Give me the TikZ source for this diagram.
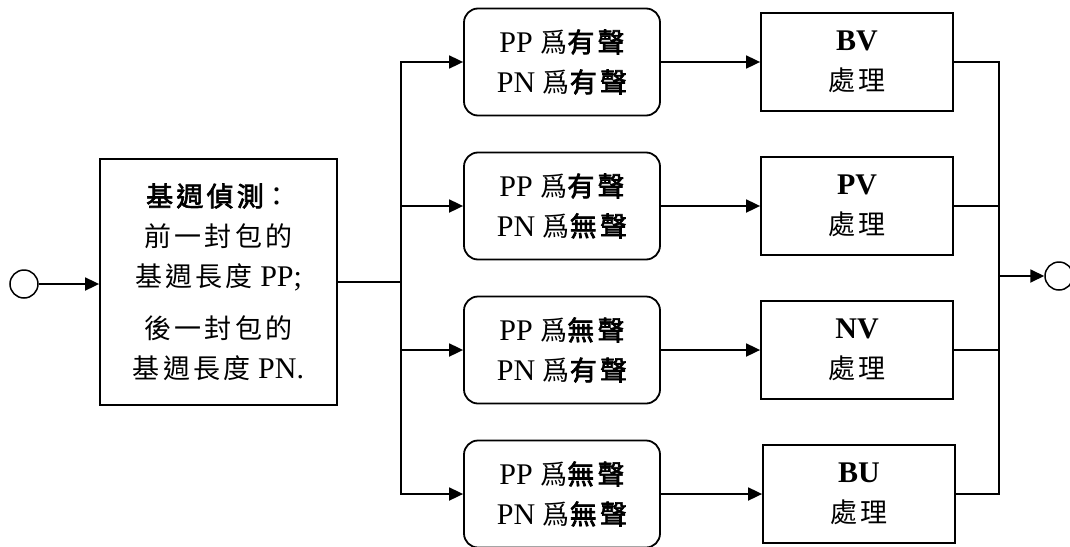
\documentclass[tikz,border=0pt]{standalone}
\usepackage{fontspec}
\setmainfont{Liberation Serif}
\newfontfamily\cjkfont[LetterSpace=12]{Noto Sans CJK TC}
\newfontfamily\cjkbfont[FakeBold=2.5,LetterSpace=12]{Noto Sans CJK TC}
\newcommand\zh[1]{{\fontsize{27}{40}\selectfont\cjkfont #1}}
\newcommand\zhb[1]{{\fontsize{27}{40}\selectfont\cjkbfont #1}}
\newcommand\lat{\fontsize{30}{40}\selectfont}
\usetikzlibrary{arrows.meta}
\begin{document}
\begin{tikzpicture}[x=1pt,y=-1pt,
  box/.style={draw, line width=1.8pt, inner sep=0pt, align=center, font=\lat},
  rbox/.style={box, rounded corners=14pt, minimum width=196pt, minimum height=107pt},
  pbox/.style={box, minimum width=192pt, minimum height=98pt},
  conn/.style={line width=1.8pt},
  arr/.style={conn, -{Triangle[length=14pt,width=13pt]}},
  term/.style={draw, circle, line width=1.5pt, minimum size=28pt, inner sep=0pt}]
\useasboundingbox (0,0) rectangle (1070,546);

\node[term] (in) at (24,284) {};
\node[box, minimum width=237pt, minimum height=246pt] (det) at (218.5,282)
  {\zhb{基週偵測}\zh{：}\\ \zh{前一封包的}\\ \zh{基週長度} PP;\\[12pt] \zh{後一封包的}\\ \zh{基週長度} PN.};

\node[rbox] (c1) at (562,62)  {PP \zh{爲}\zhb{有聲}\\ PN \zh{爲}\zhb{有聲}};
\node[rbox] (c2) at (562,206) {PP \zh{爲}\zhb{有聲}\\ PN \zh{爲}\zhb{無聲}};
\node[rbox] (c3) at (562,350) {PP \zh{爲}\zhb{無聲}\\ PN \zh{爲}\zhb{有聲}};
\node[rbox] (c4) at (562,494) {PP \zh{爲}\zhb{無聲}\\ PN \zh{爲}\zhb{無聲}};

\node[pbox] (p1) at (857,62)  {\textbf{BV}\\ \zh{處理}};
\node[pbox] (p2) at (857,206) {\textbf{PV}\\ \zh{處理}};
\node[pbox] (p3) at (857,350) {\textbf{NV}\\ \zh{處理}};
\node[pbox] (p4) at (859,494) {\textbf{BU}\\ \zh{處理}};

\node[term] (out) at (1059,276) {};

\coordinate (tm) at (401,282);
\coordinate (t1) at (401,62);
\coordinate (t2) at (401,206);
\coordinate (t3) at (401,350);
\coordinate (t4) at (401,494);
\coordinate (o1) at (999,62);
\coordinate (o2) at (999,206);
\coordinate (o3) at (999,350);
\coordinate (o4) at (999,494);
\coordinate (om) at (999,276);

\draw[arr] (in.east) -- (det.west |- in.east);
\draw[conn] (det.east |- tm) -- (tm);
\draw[conn, line cap=rect] (t1) -- (t4);
\draw[arr] (t1) -- (c1.west);
\draw[arr] (t2) -- (c2.west);
\draw[arr] (t3) -- (c3.west);
\draw[arr] (t4) -- (c4.west);
\draw[arr] (c1.east) -- (p1.west);
\draw[arr] (c2.east) -- (p2.west);
\draw[arr] (c3.east) -- (p3.west);
\draw[arr] (c4.east) -- (p4.west);
\draw[conn] (p1.east) -- (o1);
\draw[conn] (p2.east) -- (o2);
\draw[conn] (p3.east) -- (o3);
\draw[conn] (p4.east) -- (o4);
\draw[conn, line cap=rect] (o1) -- (o4);
\draw[arr] (om) -- (out.west);
\end{tikzpicture}
\end{document}
